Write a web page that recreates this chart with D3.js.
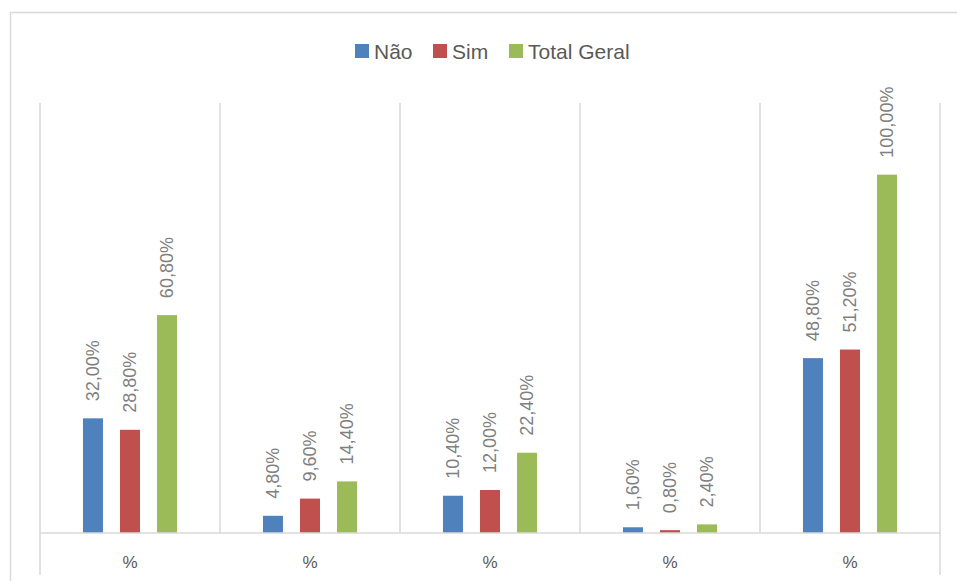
<!DOCTYPE html>
<html>
<head>
<meta charset="utf-8">
<script src="https://cdn.jsdelivr.net/npm/d3@7"></script>
<style>
  body { margin: 0; background: #fff; }
  text { font-family: "Liberation Sans", Arial, sans-serif; }
</style>
</head>
<body>
<svg id="chart" width="957" height="581"></svg>
<script>
// chart data
const categories = ['%', '%', '%', '%', '%'];
const seriesNames = ['Não', 'Sim', 'Total Geral'];
const nao = [32.0, 4.8, 10.4, 1.6, 48.8];
const sim = [28.8, 9.6, 12.0, 0.8, 51.2];
const totalGeral = [60.8, 14.4, 22.4, 2.4, 100.0];
const colors = ['#4F81BD', '#C0504D', '#9BBB59'];

const series = [nao, sim, totalGeral];

const width = 957, height = 581;
const margin = { top: 103, right: 17, bottom: 48, left: 40 };
const plotW = width - margin.left - margin.right;
const plotH = height - margin.top - margin.bottom;

const svg = d3.select('#chart');

// outer chart border
svg.append('rect')
  .attr('x', 10.5).attr('y', 12.5)
  .attr('width', 960).attr('height', 600)
  .attr('fill', 'none')
  .attr('stroke', '#d9d9d9')
  .attr('stroke-width', 1.5);

const g = svg.append('g').attr('transform', `translate(${margin.left},${margin.top})`);

const idx = categories.map((c, i) => i);
const x0 = d3.scaleBand().domain(idx).range([0, plotW]).padding(0);
const x1 = d3.scaleBand().domain(d3.range(series.length))
  .range([0, x0.bandwidth()])
  .paddingInner(0.46)
  .paddingOuter(1.16);
const y = d3.scaleLinear().domain([0, 120]).range([plotH, 0]);

const locale = d3.formatLocale({ decimal: ',', thousands: '.', grouping: [3], currency: ['', ''] });
const fmt = v => locale.format('.2f')(v) + '%';

// vertical separators between categories
const sep = d3.range(categories.length + 1).map(i => i * x0.step());
g.selectAll('line.sep')
  .data(sep)
  .join('line')
  .attr('class', 'sep')
  .attr('x1', d => d).attr('x2', d => d)
  .attr('y1', 0)
  .attr('y2', (d, i) => (i === 0 || i === categories.length) ? plotH + 42 : plotH)
  .attr('stroke', '#d9d9d9')
  .attr('stroke-width', 1.5);

// bars
const groups = g.selectAll('g.grp')
  .data(idx)
  .join('g')
  .attr('class', 'grp')
  .attr('transform', d => `translate(${x0(d)},0)`);

groups.selectAll('rect')
  .data(i => series.map((s, k) => ({ k, v: s[i] })))
  .join('rect')
  .attr('x', d => x1(d.k))
  .attr('width', x1.bandwidth())
  .attr('y', d => y(d.v))
  .attr('height', d => plotH - y(d.v))
  .attr('fill', d => colors[d.k]);

// value labels, rotated
groups.selectAll('text.val')
  .data(i => series.map((s, k) => ({ k, v: s[i] })))
  .join('text')
  .attr('class', 'val')
  .attr('transform', d => `translate(${x1(d.k) + x1.bandwidth() / 2 + 6},${y(d.v) - 17}) rotate(-90)`)
  .attr('font-size', 18)
  .attr('fill', '#7f7f7f')
  .text(d => fmt(d.v));

// x axis
g.append('line')
  .attr('x1', 0).attr('x2', plotW)
  .attr('y1', plotH).attr('y2', plotH)
  .attr('stroke', '#d9d9d9')
  .attr('stroke-width', 1.5);

g.selectAll('text.cat')
  .data(idx)
  .join('text')
  .attr('class', 'cat')
  .attr('x', d => x0(d) + x0.bandwidth() / 2)
  .attr('y', plotH + 35)
  .attr('text-anchor', 'middle')
  .attr('font-size', 17)
  .attr('fill', '#595959')
  .text(d => categories[d]);

// legend
const legendX = [355, 433, 509];
const legend = svg.append('g');
seriesNames.forEach((name, k) => {
  legend.append('rect')
    .attr('x', legendX[k]).attr('y', 44)
    .attr('width', 14).attr('height', 14)
    .attr('fill', colors[k]);
  legend.append('text')
    .attr('x', legendX[k] + 19).attr('y', 59)
    .attr('font-size', 21)
    .attr('fill', '#595959')
    .text(name);
});
</script>
</body>
</html>
